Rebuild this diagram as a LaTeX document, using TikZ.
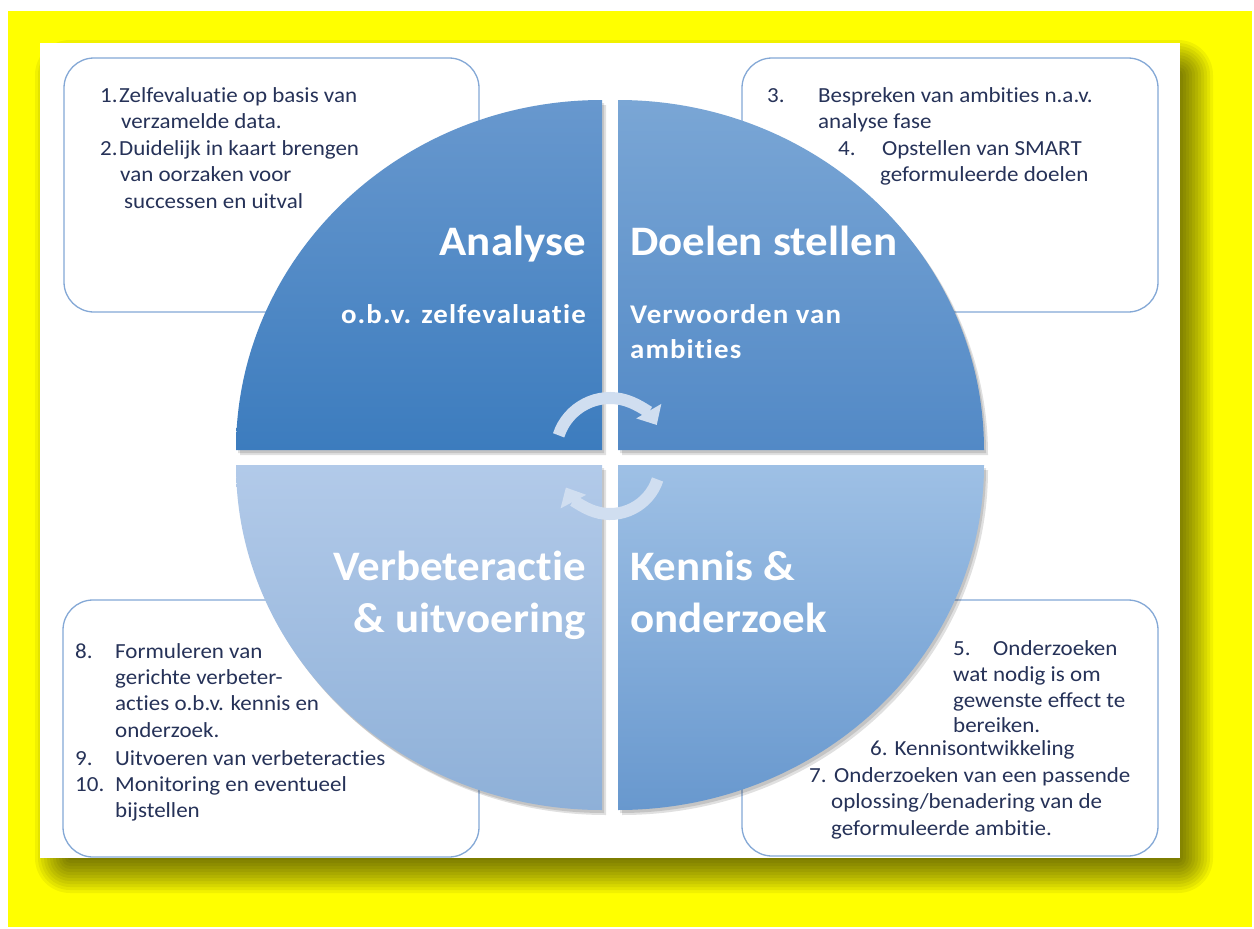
\documentclass[tikz,border=0pt]{standalone}
\usepackage{fontspec}
\setmainfont[FakeStretch=1.07,Ligatures=NoCommon]{Carlito}
\newfontfamily\subfont[FakeStretch=1.07,LetterSpace=4,Ligatures=NoCommon]{Carlito}
\usetikzlibrary{arrows.meta}

\definecolor{bgyellow}{RGB}{255,255,0}
\definecolor{boxline}{RGB}{132,168,214}
\definecolor{navy}{RGB}{38,50,88}
\definecolor{tlTop}{RGB}{104,152,206}
\definecolor{tlBot}{RGB}{60,124,190}
\definecolor{trTop}{RGB}{122,166,213}
\definecolor{trBot}{RGB}{82,137,198}
\definecolor{blTop}{RGB}{178,202,233}
\definecolor{blBot}{RGB}{142,176,216}
\definecolor{brTop}{RGB}{158,192,229}
\definecolor{brBot}{RGB}{104,152,206}
\definecolor{arrowfill}{RGB}{208,222,240}

\tikzset{
  infobox/.style={draw=boxline, line width=1.3pt, rounded corners=30pt, fill=white},
  itemtext/.style={anchor=base west, inner sep=0pt, text=navy, font=\fontsize{21.5}{26}\selectfont},
  quadtitle/.style={inner sep=0pt, text=white, font=\fontsize{42}{50}\selectfont\bfseries},
  quadsub/.style={inner sep=0pt, text=white, font=\subfont\fontsize{27}{35}\selectfont\bfseries},
  softshade/.style={fill=black, opacity=0.12},
  cyclearrow/.style={line width=12pt, draw=arrowfill, -{Triangle[width=28pt,length=16pt]}},
}

\begin{document}
\begin{tikzpicture}[x=1pt,y=-1pt]
\useasboundingbox (0,0) rectangle (1254,929);
\fill[white] (0,0) rectangle (1254,929);
\fill[bgyellow] (8,11) rectangle (1252,927);

% soft drop shadow of the sheet, built from stacked layers
\foreach \d in {-14,-11,...,19}
  \fill[black, opacity=0.055, rounded corners={\d+16}] (54-\d,59-\d) rectangle (1194+\d,874+\d);
\fill[white] (40,43) rectangle (1180,858);

% corner boxes
\node[infobox, minimum width=415pt, minimum height=254pt] (box1) at (271.5,185) {};
\node[infobox, minimum width=416pt, minimum height=254pt] (box2) at (950,185) {};
\node[infobox, minimum width=416pt, minimum height=257pt] (box3) at (271,728.5) {};
\node[infobox, minimum width=416pt, minimum height=256pt] (box4) at (950,728) {};

% shadows under the quarters
\foreach \s in {2,4}{
  \path[softshade, shift={(\s,\s+1)}] (602,450) -- (236,450) arc[start angle=180, end angle=270, x radius=366, y radius=350] -- cycle;
  \path[softshade, shift={(\s,\s+1)}] (618,450) -- (618,100) arc[start angle=270, end angle=360, x radius=366, y radius=350] -- cycle;
  \path[softshade, shift={(\s,\s+1)}] (618,465) -- (984,465) arc[start angle=0, end angle=90, x radius=366, y radius=345] -- cycle;
  \path[softshade, shift={(\s,\s+1)}] (602,465) -- (602,810) arc[start angle=90, end angle=180, x radius=366, y radius=345] -- cycle;
}

% the four quarters
\path[top color=tlTop, bottom color=tlBot] (602,450) -- (236,450) arc[start angle=180, end angle=270, x radius=366, y radius=350] -- cycle;
\path[top color=trTop, bottom color=trBot] (618,450) -- (618,100) arc[start angle=270, end angle=360, x radius=366, y radius=350] -- cycle;
\path[top color=brTop, bottom color=brBot] (618,465) -- (984,465) arc[start angle=0, end angle=90, x radius=366, y radius=345] -- cycle;
\path[top color=blTop, bottom color=blBot] (602,465) -- (602,810) arc[start angle=90, end angle=180, x radius=366, y radius=345] -- cycle;

% quarter titles
\node[quadtitle, anchor=base east] (analyse) at (586,255) {Analyse};
\node[quadsub, anchor=base east] (analysesub) at (586,323) {o.b.v. zelfevaluatie};
\node[quadtitle, anchor=base west] (doelen) at (630,255) {Doelen stellen};
\node[quadsub, anchor=base west] (doelensub) at (630,323) {Verwoorden van};
\node[quadsub, anchor=base west] (doelensubb) at (630,358) {ambities};
\node[quadtitle, anchor=base east] (verbeter) at (586,580) {Verbeteractie};
\node[quadtitle, anchor=base east] (verbeterb) at (586,632) {\& uitvoering};
\node[quadtitle, anchor=base west] (kennis) at (630,580) {Kennis \&};
\node[quadtitle, anchor=base west] (kennisb) at (630,632) {onderzoek};

% cycle arrows in the middle
\draw[cyclearrow] (610,452) ++(198:54) arc[start angle=198, end angle=330, radius=54];
\draw[cyclearrow] (610,464) ++(18:50) arc[start angle=18, end angle=152, radius=50];

% box texts
\foreach \x/\y/\txt [count=\i] in {100/102/1., 119/102/Zelfevaluatie op basis van, 121/128.5/verzamelde data.,
    100/155/2., 119/155/Duidelijk in kaart brengen, 120/181.5/van oorzaken voor, 124/208/successen en uitval}
  \node[itemtext] (a\i) at (\x,\y) {\txt};

\foreach \x/\y/\txt [count=\i] in {767/102/3., 818/102/Bespreken van ambities n.a.v., 818/128/analyse fase,
    838/155/4., 882/155/Opstellen van SMART, 880/181.5/geformuleerde doelen}
  \node[itemtext] (d\i) at (\x,\y) {\txt};

\foreach \x/\y/\txt [count=\i] in {75/658/8., 115/658/Formuleren van, 115/684/gerichte verbeter-,
    115/710/acties o.b.v. kennis en, 115/737/onderzoek., 75/765/9., 115/765/Uitvoeren van verbeteracties,
    75/791/10., 115/791/Monitoring en eventueel, 115/817/bijstellen}
  \node[itemtext] (v\i) at (\x,\y) {\txt};

\foreach \x/\y/\txt [count=\i] in {953/655/5., 993/655/Onderzoeken, 953/681/wat nodig is om,
    953/707/gewenste effect te, 953/732/bereiken., 870/755/6. Kennisontwikkeling,
    809/782/7., 834/782/Onderzoeken van een passende, 831/808/{oplossing/benadering van de},
    831/835/geformuleerde ambitie.}
  \node[itemtext] (k\i) at (\x,\y) {\txt};
\end{tikzpicture}
\end{document}
